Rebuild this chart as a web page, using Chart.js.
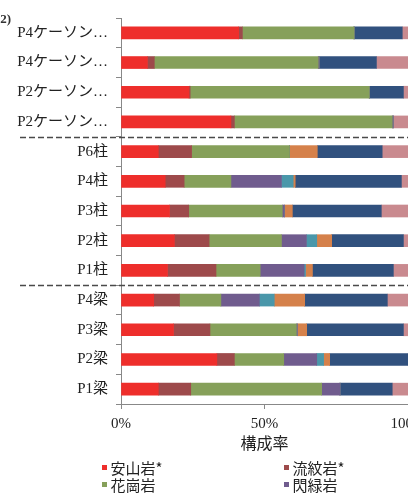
<!DOCTYPE html>
<html>
<head>
<meta charset="utf-8">
<script src="https://cdn.jsdelivr.net/npm/chart.js@4.4.1/dist/chart.umd.min.js"></script>
<style>
html,body{margin:0;padding:0;background:#fff;overflow:hidden;}
#wrap{position:relative;width:408px;height:493px;}
</style>
</head>
<body>
<div id="wrap"><canvas id="c"></canvas></div>
<script>
// ---- data ----
const categories = ['P4ケーソン…','P4ケーソン…','P2ケーソン…','P2ケーソン…','P6柱','P4柱','P3柱','P2柱','P1柱','P4梁','P3梁','P2梁','P1梁'];
const andesite = [41.0, 9.2, 23.7, 38.3, 13.0, 15.4, 16.9, 18.6, 16.2, 11.4, 18.3, 33.4, 13.0];
const rhyolite = [1.3, 2.4, 0.4, 1.2, 11.6, 6.6, 6.7, 12.1, 16.9, 9.0, 12.7, 6.1, 11.3];
const granite  = [38.9, 57.1, 62.4, 55.0, 34.1, 16.3, 32.6, 25.2, 15.4, 14.4, 30.1, 17.2, 45.6];
const diorite  = [0, 0.3, 0, 0.3, 0, 17.6, 0.7, 8.7, 15.3, 13.4, 0.3, 11.5, 6.4];
const gabbro   = [0, 0, 0, 0, 0, 4.1, 0, 3.6, 0.5, 5.2, 0, 2.4, 0];
const basalt   = [0, 0, 0, 0, 9.7, 0.7, 2.8, 5.2, 2.4, 10.6, 3.3, 2.1, 0];
const sediment = [16.8, 20.0, 11.9, 0, 22.6, 37.0, 31.0, 25.0, 28.2, 28.8, 33.7, 27.3, 18.2];
const other    = [2.0, 11.0, 1.6, 5.2, 9.0, 2.3, 9.3, 1.6, 5.1, 7.2, 1.6, 0, 5.5];
const seriesNames = ['安山岩*','流紋岩*','花崗岩','閃緑岩','斑れい岩','玄武岩','堆積岩','その他'];
const xTicks = [0, 50, 100];
const axisTitle = '構成率';
const cornerLabel = '(2)';
const separatorsAfter = [3, 8]; // dashed group separators after these category indexes

const seriesValues = [andesite, rhyolite, granite, diorite, gabbro, basalt, sediment, other];
const colors = ['#EE2E2B','#9D4A4B','#86A05A','#705C8E','#4A97AA','#D5814B','#31517E','#C98A8F'];

const serif = "'Liberation Serif', 'Noto Sans CJK JP', serif";
const sans = "'Noto Sans CJK JP', sans-serif";

const extras = {
  id: 'extras',
  afterDraw(chart) {
    const ctx = chart.ctx;
    const ys = chart.scales.y, area = chart.chartArea;
    ctx.save();
    // dashed group separators
    ctx.strokeStyle = '#4a4a4a';
    ctx.lineWidth = 1.5;
    ctx.setLineDash([6, 3]);
    separatorsAfter.forEach(i => {
      const y = Math.round(ys.getPixelForValue(i + 0.5)) + 0.5;
      ctx.beginPath();
      ctx.moveTo(20, y);
      ctx.lineTo(chart.width, y);
      ctx.stroke();
    });
    ctx.setLineDash([]);
    // corner label (partly cut off)
    ctx.fillStyle = '#333';
    ctx.font = "bold 13px 'Liberation Serif', serif";
    ctx.textAlign = 'right';
    ctx.textBaseline = 'middle';
    ctx.fillText(cornerLabel, 11, 20);
    // legend: two columns
    ctx.font = "15px " + sans;
    ctx.textAlign = 'left';
    const colX = [area.left - 19, area.left + 163];
    const rowY0 = area.bottom + 64, rowH = 17;
    seriesNames.forEach((name, i) => {
      const x = colX[i % 2];
      const y = rowY0 + Math.floor(i / 2) * rowH;
      if (y - 8 > chart.height) return;
      ctx.fillStyle = colors[i];
      ctx.fillRect(x, y - 3, 5, 5);
      ctx.fillStyle = '#222';
      ctx.fillText(name, x + 8.5, y);
    });
    ctx.restore();
  }
};

new Chart(document.getElementById('c'), {
  type: 'bar',
  data: {
    labels: categories,
    datasets: seriesValues.map((vals, i) => ({
      label: seriesNames[i],
      data: vals,
      backgroundColor: colors[i],
      borderWidth: 0,
      barThickness: 12
    }))
  },
  options: {
    indexAxis: 'y',
    responsive: true,
    maintainAspectRatio: false,
    animation: false,
    devicePixelRatio: 1,
    layout: { padding: { top: 18, left: 0, right: 0, bottom: 39 } },
    plugins: { legend: { display: false }, tooltip: { enabled: false } },
    scales: {
      x: {
        stacked: true,
        min: 0, max: 100,
        afterBuildTicks: s => { s.ticks = xTicks.map(v => ({ value: v })); },
        afterFit: s => { s.height = 50; s.paddingRight = 0; },
        ticks: { callback: v => v + '%', color: '#222', font: { family: serif, size: 15 }, padding: 6, maxRotation: 0 },
        grid: { drawOnChartArea: false, tickLength: 5, color: '#888' },
        border: { color: '#888', width: 1 },
        title: { display: true, text: axisTitle, color: '#222', font: { family: sans, size: 16 }, padding: { top: 0, bottom: 1 } }
      },
      y: {
        stacked: true,
        afterFit: s => { s.width = 121; },
        ticks: { color: '#222', font: { family: serif, size: 15 }, padding: 8, autoSkip: false },
        grid: { drawOnChartArea: false, tickLength: 5, color: '#888', offset: true },
        border: { color: '#888', width: 1 }
      }
    }
  },
  plugins: [extras]
});
</script>
</body>
</html>
